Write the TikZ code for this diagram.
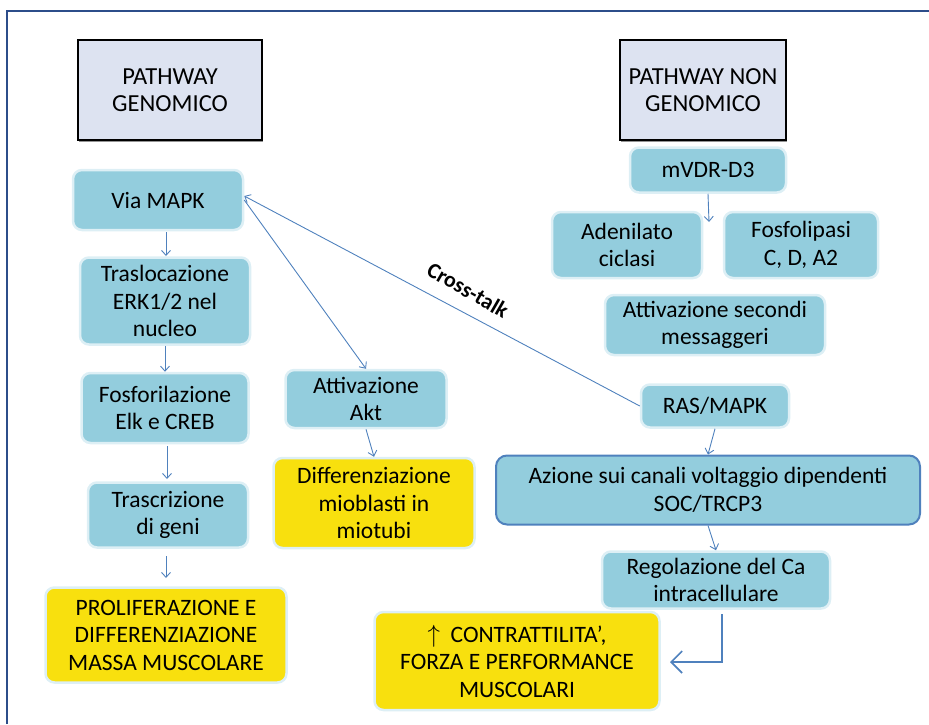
\documentclass[tikz,border=0pt]{standalone}
\usepackage{fontspec}
\setmainfont{Carlito}
\usetikzlibrary{arrows.meta,shadows}
\definecolor{boxblue}{HTML}{93CDDD}
\definecolor{boxedge}{HTML}{DDEFF5}
\definecolor{ylw}{HTML}{F8E00E}
\definecolor{hdr}{HTML}{DDE3F1}
\definecolor{arr}{HTML}{4F81BD}
\definecolor{framec}{HTML}{2C4D8A}
\begin{document}
\begin{tikzpicture}[x=1pt,y=-1pt,
  box/.style={rounded corners=9pt, fill=boxblue, draw=boxedge, line width=2.5pt, align=center, inner sep=0pt, font=\fontsize{23.5}{27.5}\selectfont},
  ybox/.style={box, fill=ylw},
  hbox/.style={fill=hdr, draw=black, line width=1.8pt, align=center, inner sep=0pt, font=\fontsize{24.5}{27}\selectfont, drop shadow={shadow xshift=0.5pt, shadow yshift=-2pt, fill=black!60, opacity=0.7}},
  arw/.style={draw=arr, line width=0.9pt, -{Straight Barb[length=5pt,width=9pt]}},
  bigarw/.style={draw=arr, line width=1.4pt, -{Straight Barb[length=11pt,width=22pt,line width=1.6pt]}}
]
\useasboundingbox (0,0) rectangle (929,724);
\draw[framec, line width=2.2pt] (7,724) -- (7,11) -- (929,11);

% headers
\node[hbox, minimum width=184pt, minimum height=100pt] (hg) at (170,90) {PATHWAY\\GENOMICO};
\node[hbox, minimum width=166pt, minimum height=100pt] (hn) at (703,90) {PATHWAY NON\\GENOMICO};

% genomic pathway
\node[box, minimum width=170pt, minimum height=60pt] (mapk) at (158,200) {Via MAPK};
\node[box, minimum width=170pt, minimum height=87pt] (tras) at (165,301) {Traslocazione\\ERK1/2 nel\\nucleo};
\node[box, minimum width=167pt, minimum height=70pt] (fosf) at (165,408) {Fosforilazione\\Elk e CREB};
\node[box, minimum width=160pt, minimum height=65pt] (trasc) at (168,515) {Trascrizione\\di geni};
\node[ybox, minimum width=241pt, minimum height=95pt] (prol) at (166,635) {PROLIFERAZIONE E\\DIFFERENZIAZIONE\\MASSA MUSCOLARE};
\node[box, minimum width=161pt, minimum height=58pt] (akt) at (366,399) {Attivazione\\Akt};
\node[ybox, minimum width=201pt, minimum height=90pt] (diff) at (374,503) {Differenziazione\\mioblasti in\\miotubi};

% non genomic pathway
\node[box, minimum width=156pt, minimum height=45pt] (mvdr) at (708,170) {mVDR-D3};
\node[box, minimum width=150pt, minimum height=66pt] (aden) at (627,245) {Adenilato\\ciclasi};
\node[box, minimum width=154pt, minimum height=66pt] (fosl) at (801,245) {Fosfolipasi\\C, D, A2};
\node[box, minimum width=220pt, minimum height=60pt] (sec) at (715,325) {Attivazione secondi\\messaggeri};
\node[box, minimum width=148pt, minimum height=43pt] (ras) at (715,406) {RAS/MAPK};
\node[box, draw=arr, line width=2pt, rounded corners=11pt, minimum width=424pt, minimum height=69pt] (azione) at (708,490) {Azione sui canali voltaggio dipendenti\\SOC/TRCP3};
\node[box, minimum width=228pt, minimum height=57pt] (reg) at (716,580) {Regolazione del Ca\\intracellulare};
\node[ybox, minimum width=285pt, minimum height=98pt] (contr) at (517,661) {$\uparrow$\ \ CONTRATTILITA',\\FORZA E PERFORMANCE\\MUSCOLARI};

% connectors
\coordinate (c1) at (166,232);
\coordinate (c2) at (166,256);
\draw[arw] (c1) -- (c2);
\draw[arw] (tras.south) -- (fosf.north);
\coordinate (c3) at (167,446);
\coordinate (c4) at (167,479);
\draw[arw] (c3) -- (c4);
\coordinate (c5) at (166,556);
\coordinate (c6) at (166,578);
\draw[arw] (c5) -- (c6);
\draw[arw] (mapk.east) -- (akt.north);
\draw[arw] (akt.south) -- (diff.north);
\coordinate (mv) at (709,222);
\draw[arw] (mvdr.south) -- (mv);
\draw[arw] (ras.west) -- ([yshift=4pt]mapk.east);
\node[rotate=-30, font=\fontsize{22}{24}\selectfont\bfseries] (ct) at (468,290) {Cross-talk};
\draw[arw] (ras.south) -- (azione.north);
\draw[arw] (azione.south) -- (reg.north);
\coordinate (r1) at (722,614);
\coordinate (r2) at (670,662);
\draw[bigarw] (r1) |- (r2);
\end{tikzpicture}
\end{document}
